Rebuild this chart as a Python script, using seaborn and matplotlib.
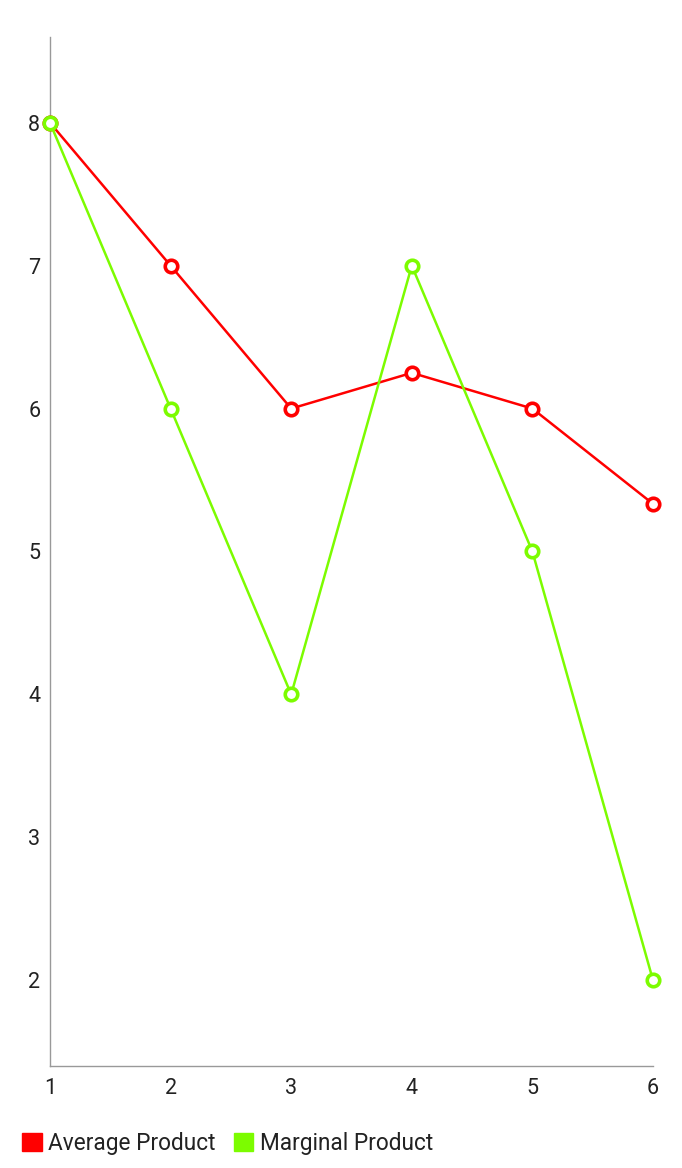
import matplotlib
matplotlib.use("Agg")
import matplotlib.pyplot as plt
import seaborn as sns
import pandas as pd
from matplotlib.patches import Patch

x_vals = [1, 2, 3, 4, 5, 6]
average_product = [8, 7, 6, 6.25, 6, 5.3333]
marginal_product = [8, 6, 4, 7, 5, 2]
series_names = ["Average Product", "Marginal Product"]
colors = ["#ff0000", "#7cfc00"]

df = pd.DataFrame({
    "x": x_vals * 2,
    "y": average_product + marginal_product,
    "series": [series_names[0]] * len(x_vals) + [series_names[1]] * len(x_vals),
})

sns.set_style("white")
plt.rcParams["font.family"] = ["Roboto", "DejaVu Sans"]

fig = plt.figure(figsize=(6.82, 11.68), dpi=100)
ax = fig.add_axes([50 / 682, 102 / 1168, 603 / 682, 1029 / 1168])

palette = dict(zip(series_names, colors))
sns.lineplot(data=df, x="x", y="y", hue="series", palette=palette, ax=ax,
             marker="o", markersize=9, markerfacecolor="white",
             markeredgewidth=2.6, linewidth=1.8, legend=False, zorder=3)
for line, c in zip(ax.get_lines(), colors):
    line.set_markeredgecolor(c)
    line.set_clip_on(False)

ax.set_xlim(1, 6)
ax.set_ylim(1.4, 8.6)
ax.set_xticks(x_vals)
ax.set_yticks([2, 3, 4, 5, 6, 7, 8])
ax.set_xlabel("")
ax.set_ylabel("")
ax.tick_params(axis="both", length=0, labelsize=15.5, colors="#222222")
ax.tick_params(axis="y", pad=7)
ax.tick_params(axis="x", pad=9)
for s in ["top", "right"]:
    ax.spines[s].set_visible(False)
for s in ["left", "bottom"]:
    ax.spines[s].set_color("#999999")
    ax.spines[s].set_linewidth(1)

handles = [Patch(facecolor=c, edgecolor=c) for c in colors]
fig.legend(handles, series_names, loc="lower left", bbox_to_anchor=(2 / 682, -7 / 1168),
           ncol=2, frameon=False, fontsize=16.3, handlelength=0.85, handleheight=0.85,
           handletextpad=0.3, columnspacing=0.8, labelcolor="#222222")

fig.savefig("out.png", dpi=100, facecolor="white")
